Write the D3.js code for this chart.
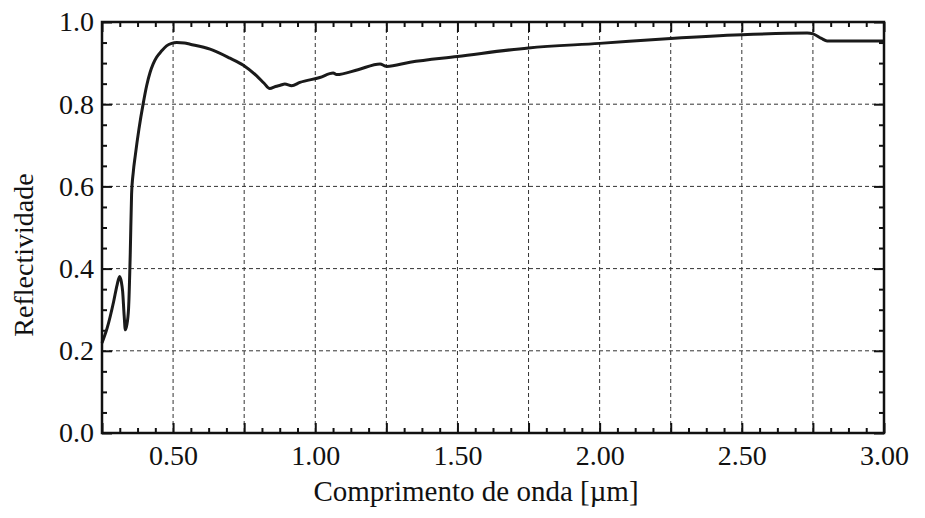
<!DOCTYPE html>
<html>
<head>
<meta charset="utf-8">
<script src="https://cdn.jsdelivr.net/npm/d3@7"></script>
<style>
  html, body { margin: 0; padding: 0; background: #fff; }
  svg { display: block; }
  svg text { font-family: 'Times New Roman', Times, 'Liberation Serif', Tinos, 'Noto Serif', 'DejaVu Serif', Georgia, serif !important; fill: #111; }
</style>
</head>
<body>
<svg id="chart" width="925" height="518"></svg>
<script>
// Wavelength (µm)
const wavelength = [0.25, 0.268, 0.291, 0.303, 0.312, 0.318, 0.3225, 0.328, 0.332, 0.337, 0.3435, 0.3495, 0.354, 0.360, 0.367, 0.380, 0.395, 0.407, 0.419, 0.430, 0.442, 0.460, 0.477, 0.495, 0.513, 0.540, 0.560, 0.630, 0.700, 0.747, 0.794, 0.820, 0.840, 0.860, 0.877, 0.893, 0.917, 0.946, 1.016, 1.063, 1.075, 1.15, 1.228, 1.245, 1.251, 1.333, 1.5, 1.75, 2.0, 2.25, 2.5, 2.73, 2.75, 2.78, 2.80, 3.0];
// Reflectivity
const reflectivity = [0.219, 0.255, 0.320, 0.360, 0.381, 0.368, 0.345, 0.285, 0.251, 0.262, 0.304, 0.440, 0.580, 0.635, 0.675, 0.740, 0.802, 0.845, 0.877, 0.898, 0.914, 0.930, 0.942, 0.948, 0.950, 0.949, 0.946, 0.934, 0.912, 0.895, 0.869, 0.851, 0.838, 0.843, 0.846, 0.849, 0.845, 0.853, 0.865, 0.876, 0.872, 0.884, 0.898, 0.893, 0.892, 0.902, 0.916, 0.937, 0.948, 0.960, 0.969, 0.973, 0.971, 0.960, 0.954, 0.954];

const xMajorTicks = [0.25, 0.5, 0.75, 1.0, 1.25, 1.5, 1.75, 2.0, 2.25, 2.5, 2.75, 3.0];
const xTickLabels = { 0.5: "0.50", 1.0: "1.00", 1.5: "1.50", 2.0: "2.00", 2.5: "2.50", 3.0: "3.00" };
const xGridTicks = [0.5, 0.75, 1.0, 1.25, 1.5, 1.75, 2.0, 2.25, 2.5, 2.75];
const yMajorTicks = [0.0, 0.2, 0.4, 0.6, 0.8, 1.0];
const yTickLabels = ["0.0", "0.2", "0.4", "0.6", "0.8", "1.0"];
const yGridTicks = [0.2, 0.4, 0.6, 0.8];
const xLabel = "Comprimento de onda [µm]";
const yLabel = "Reflectividade";

const FONT = "'Times New Roman', Times, 'Liberation Serif', Tinos, 'Noto Serif', 'DejaVu Serif', Georgia, serif";
const svg = d3.select("#chart");
const L = 102, R = 884, T = 22, B = 433;

const x = d3.scaleLinear().domain([0.25, 3.0]).range([L, R]);
const y = d3.scaleLinear().domain([0, 1]).range([B, T]);

// minor ticks: 3 between majors
const xMinor = [];
for (let i = 0; i < xMajorTicks.length - 1; i++) {
  const a = xMajorTicks[i], b = xMajorTicks[i + 1];
  for (let k = 1; k < 4; k++) xMinor.push(a + (b - a) * k / 4);
}
const yMinor = [];
for (let i = 0; i < yMajorTicks.length - 1; i++) {
  const a = yMajorTicks[i], b = yMajorTicks[i + 1];
  for (let k = 1; k < 4; k++) yMinor.push(a + (b - a) * k / 4);
}

// grid
const grid = svg.append("g").attr("stroke", "#333").attr("stroke-width", 1).attr("stroke-dasharray", "4,3");
grid.selectAll("line.vx").data(xGridTicks).join("line")
  .attr("x1", d => x(d)).attr("x2", d => x(d)).attr("y1", T).attr("y2", B);
grid.selectAll("line.hy").data(yGridTicks).join("line")
  .attr("y1", d => y(d)).attr("y2", d => y(d)).attr("x1", L).attr("x2", R);

// axes
function styleAxis(g) {
  g.attr("font-family", FONT).attr("font-size", 28);
  g.select(".domain").remove();
  g.selectAll(".tick line").attr("stroke", "#111").attr("stroke-width", 2);
  g.selectAll("text").attr("fill", "#111");
}

svg.append("g").attr("transform", `translate(0,${B})`)
  .call(d3.axisBottom(x).tickValues(xMajorTicks).tickSize(-10).tickPadding(12)
    .tickFormat(d => xTickLabels[d] || ""))
  .call(styleAxis);
svg.append("g").attr("transform", `translate(0,${B})`)
  .call(d3.axisBottom(x).tickValues(xMinor).tickSize(-5).tickFormat(""))
  .call(styleAxis);
svg.append("g").attr("transform", `translate(0,${T})`)
  .call(d3.axisTop(x).tickValues(xMajorTicks).tickSize(-10).tickFormat(""))
  .call(styleAxis);
svg.append("g").attr("transform", `translate(0,${T})`)
  .call(d3.axisTop(x).tickValues(xMinor).tickSize(-5).tickFormat(""))
  .call(styleAxis);

svg.append("g").attr("transform", `translate(${L},0)`)
  .call(d3.axisLeft(y).tickValues(yMajorTicks).tickSize(-10).tickPadding(8)
    .tickFormat((d, i) => yTickLabels[i]))
  .call(styleAxis);
svg.append("g").attr("transform", `translate(${L},0)`)
  .call(d3.axisLeft(y).tickValues(yMinor).tickSize(-5).tickFormat(""))
  .call(styleAxis);
svg.append("g").attr("transform", `translate(${R},0)`)
  .call(d3.axisRight(y).tickValues(yMajorTicks).tickSize(-10).tickFormat(""))
  .call(styleAxis);
svg.append("g").attr("transform", `translate(${R},0)`)
  .call(d3.axisRight(y).tickValues(yMinor).tickSize(-5).tickFormat(""))
  .call(styleAxis);

// data line
const data = wavelength.map((w, i) => [w, reflectivity[i]]);
svg.append("path").datum(data)
  .attr("fill", "none").attr("stroke", "#1a1a1a").attr("stroke-width", 3)
  .attr("stroke-linejoin", "round")
  .attr("d", d3.line().x(d => x(d[0])).y(d => y(d[1])).curve(d3.curveMonotoneX));

// frame
svg.append("rect").attr("x", L).attr("y", T).attr("width", R - L).attr("height", B - T)
  .attr("fill", "none").attr("stroke", "#111").attr("stroke-width", 2.5);

// labels
svg.append("text").attr("x", 476).attr("y", 501).attr("text-anchor", "middle")
  .attr("font-family", FONT).attr("font-size", 29).text(xLabel);
svg.append("text").attr("transform", "translate(33,255) rotate(-90)").attr("text-anchor", "middle")
  .attr("font-family", FONT).attr("font-size", 28).text(yLabel);
</script>
</body>
</html>
